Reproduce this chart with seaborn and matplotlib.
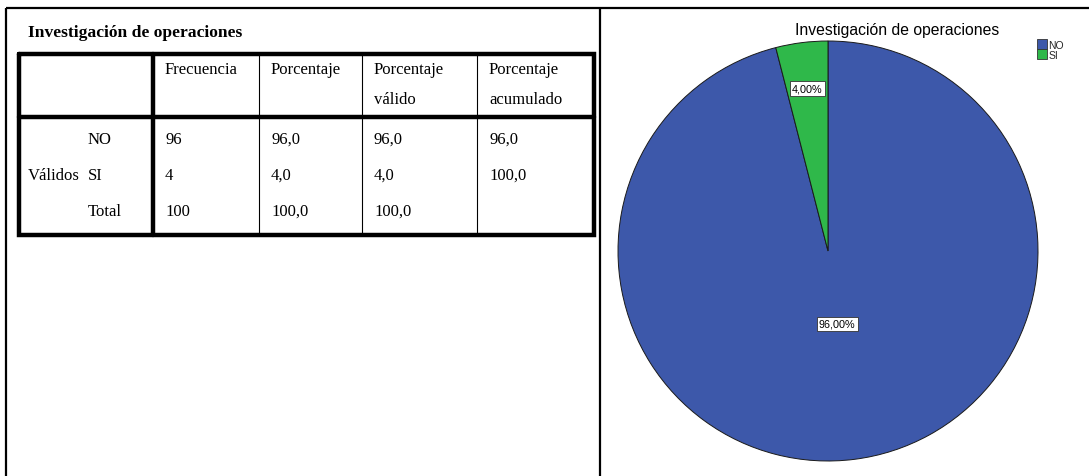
import matplotlib
matplotlib.use("Agg")
import matplotlib.pyplot as plt
from matplotlib.lines import Line2D
import numpy as np
import seaborn as sns

# ---- data -------------------------------------------------------------
title = "Investigación de operaciones"
col_headers = ["Frecuencia", "Porcentaje", "Porcentaje\nválido", "Porcentaje\nacumulado"]
group_label = "Válidos"
row_labels = ["NO", "SI", "Total"]
frecuencia = [96, 4, 100]
porcentaje = [96.0, 4.0, 100.0]
porc_valido = [96.0, 4.0, 100.0]
porc_acumulado = [96.0, 100.0, None]

pie_labels = ["NO", "SI"]
pie_values = [96, 4]
pie_colors = ["#3d58aa", "#2fb84a"]


def fmt1(v):
    return "" if v is None else f"{v:.1f}".replace(".", ",")


sns.set_theme(style="white")
plt.rcParams["font.family"] = ["Liberation Serif", "DejaVu Serif"]
sans = ["Liberation Sans", "DejaVu Sans"]

W, H = 1089, 477
fig = plt.figure(figsize=(W / 100, H / 100), dpi=100)
fig.patch.set_facecolor("white")

# background axes in pixel units for the frame and the table
bg = fig.add_axes([0, 0, 1, 1])
bg.set_xlim(0, W)
bg.set_ylim(H, 0)
bg.axis("off")

thick = 3.2
thin = 0.8
frame = 1.6

# outer frame and divider
bg.plot([6, W], [9, 9], color="black", lw=frame, solid_capstyle="butt")
bg.plot([6, 6], [9, H], color="black", lw=frame, solid_capstyle="butt")
bg.plot([600, 600], [9, H], color="black", lw=frame, solid_capstyle="butt")

# table title
bg.text(28, 33, title, fontsize=12.6, fontweight="bold", va="center", ha="left",
        color="black")

# table geometry
tx0, tx1 = 19, 594
ty0, ty1 = 55, 236
y_head = 118
col_x = [153, 259, 362, 477]

bg.plot([tx0, tx1, tx1, tx0, tx0], [ty0, ty0, ty1, ty1, ty0], color="black",
        lw=thick, solid_joinstyle="miter")
bg.plot([tx0, tx1], [y_head, y_head], color="black", lw=thick)
bg.plot([col_x[0], col_x[0]], [ty0, ty1], color="black", lw=thick)
for x in col_x[1:]:
    bg.plot([x, x], [ty0, ty1], color="black", lw=thin)

text_kw = dict(fontsize=12, va="center", ha="left", color="black")

# header cells
for x, label in zip(col_x, col_headers):
    lines = label.split("\n")
    for i, ln in enumerate(lines):
        bg.text(x + 12, 70 + i * 30, ln, **text_kw)

# body rows
row_y = [140, 176, 212]
bg.text(28, row_y[1], group_label, **text_kw)
columns = [
    [str(v) for v in frecuencia],
    [fmt1(v) for v in porcentaje],
    [fmt1(v) for v in porc_valido],
    [fmt1(v) for v in porc_acumulado],
]
for y, lab in zip(row_y, row_labels):
    bg.text(88, y, lab, **text_kw)
for x, col in zip(col_x, columns):
    for y, val in zip(row_y, col):
        bg.text(x + 12, y, val, **text_kw)

# ---- pie chart --------------------------------------------------------
cx, cy, R = 828, 252, 210
ax = fig.add_axes([(cx - R) / W, (H - cy - R) / H, 2 * R / W, 2 * R / H])
wedges, _ = ax.pie(
    pie_values,
    colors=pie_colors,
    startangle=90,
    counterclock=False,
    radius=1.0,
    wedgeprops=dict(edgecolor="#1a1a1a", linewidth=0.7),
)
ax.set_xlim(-1, 1)
ax.set_ylim(-1, 1)
ax.set_aspect("equal")
ax.axis("off")

total = sum(pie_values)
label_dist = [0.35, 0.78]
for w, v, d in zip(wedges, pie_values, label_dist):
    ang = np.deg2rad((w.theta1 + w.theta2) / 2)
    ax.text(d * np.cos(ang), d * np.sin(ang),
            f"{v / total * 100:.2f}%".replace(".", ","),
            family=sans, fontsize=7.8,
            ha="center", va="center", color="black",
            bbox=dict(boxstyle="square,pad=0.2", facecolor="white",
                      edgecolor="#333333", linewidth=0.6))

fig.text(897 / W, 1 - 30 / H, title, family=sans,
         fontsize=11.3, ha="center", va="center", color="black")

handles = [Line2D([0], [0], marker="s", linestyle="none", markersize=7,
                  markerfacecolor=c, markeredgecolor="#333333", markeredgewidth=0.6)
           for c in pie_colors]
leg = fig.legend(handles, pie_labels, loc="upper left",
                 bbox_to_anchor=(1038 / W, 1 - 41 / H), frameon=False,
                 prop=dict(family=sans, size=7.5),
                 handlelength=0.8, handletextpad=0.2, labelspacing=0.0,
                 borderpad=0.0, borderaxespad=0.0)

fig.savefig("out.png", dpi=100, facecolor="white")
